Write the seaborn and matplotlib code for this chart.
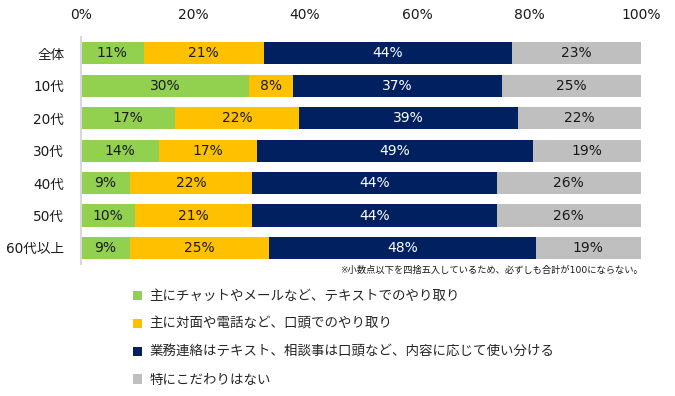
"""
Stacked horizontal bar chart: communication style by age group
"""
import numpy as np
import pandas as pd
import matplotlib
matplotlib.use("Agg")
import matplotlib.pyplot as plt
from matplotlib.patches import Patch
import seaborn as sns

# --- data ---
groups = ["全体", "10代", "20代", "30代", "40代", "50代", "60代以上"]
text_only = [11.2, 30.0, 16.8, 14.0, 8.7, 9.7, 8.7]
oral_only = [21.4, 7.9, 22.2, 17.4, 21.9, 20.9, 24.9]
mixed = [44.4, 37.2, 39.0, 49.4, 43.6, 43.6, 47.6]
no_pref = [23.0, 24.9, 22.0, 19.2, 25.8, 25.8, 18.8]

series_names = [
    "主にチャットやメールなど、テキストでのやり取り",
    "主に対面や電話など、口頭でのやり取り",
    "業務連絡はテキスト、相談事は口頭など、内容に応じて使い分ける",
    "特にこだわりはない",
]
colors = ["#92D050", "#FFC000", "#002060", "#BFBFBF"]
text_colors = ["#1a1a1a", "#1a1a1a", "white", "#1a1a1a"]
xticks = [0, 20, 40, 60, 80, 100]
note = "※小数点以下を四捨五入しているため、必ずしも合計が100にならない。"

sns.set_style("white")
# DejaVu for the digits, Noto CJK picks up the Japanese glyphs
plt.rcParams["font.family"] = ["DejaVu Sans", "Noto Sans CJK JP"]

df = pd.DataFrame({"group": groups, "s1": text_only, "s2": oral_only,
                   "s3": mixed, "s4": no_pref})
parts = ["s1", "s2", "s3", "s4"]
cum = df[parts].cumsum(axis=1)

fig = plt.figure(figsize=(6.75, 3.96), dpi=100)
ax = fig.add_axes([0.12, 0.333, 0.8296, 0.573])

# draw cumulative totals from the back (longest) to the front
for i in reversed(range(4)):
    sns.barplot(x=cum[parts[i]], y=df["group"], color=colors[i], orient="h",
                width=0.68, saturation=1, ax=ax, edgecolor="none")

# value labels in each segment
for i, p in enumerate(parts):
    starts = cum[p] - df[p]
    for j, v in enumerate(df[p]):
        ax.text(starts[j] + v / 2, j, f"{v:.0f}%", ha="center", va="center",
                fontsize=10, color=text_colors[i])

ax.set_xlim(0, 100)
ax.set_ylim(6.5, -0.5)
ax.set_xticks(xticks)
ax.set_xticklabels([f"{t}%" for t in xticks])
ax.xaxis.tick_top()
ax.tick_params(axis="x", length=0, pad=11, labelsize=10, colors="#1a1a1a")
ax.tick_params(axis="y", length=0, pad=12, labelsize=9.8, colors="#1a1a1a")
ax.set_xlabel("")
ax.set_ylabel("")
for s in ["top", "right", "bottom"]:
    ax.spines[s].set_visible(False)
ax.spines["left"].set_color("#D9D9D9")
ax.spines["left"].set_linewidth(1.5)

fig.text(0.952, 0.318, note, ha="right", va="center", fontsize=6.7,
         color="#1a1a1a")

handles = [Patch(facecolor=c, edgecolor="none") for c in colors]
fig.legend(handles, series_names, loc="upper left", bbox_to_anchor=(0.197, 0.267),
           frameon=False, fontsize=9.7, handlelength=0.7, handleheight=0.7,
           handletextpad=0.5, labelspacing=1.1, borderaxespad=0, borderpad=0)

fig.savefig("out.png", dpi=100)
